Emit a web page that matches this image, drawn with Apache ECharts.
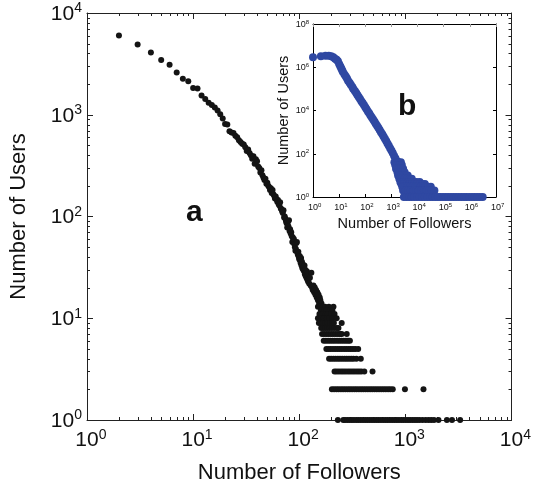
<!DOCTYPE html>
<html>
<head>
<meta charset="utf-8">
<script src="https://cdn.jsdelivr.net/npm/echarts@6/dist/echarts.min.js"></script>
<style>
  html, body { margin: 0; padding: 0; background: #fff; }
  #chart { width: 534px; height: 489px; }
</style>
</head>
<body>
<div id="chart"></div>
<script>
// ---- Panel a: followers vs number of users (sample) ----
// steep part of the distribution: [followers, users]
const curveA = [
  [2, 6000], [3, 4900], [4, 4100], [5, 3450], [6, 3100], [7, 2600], [8, 2260], [9, 2140],
  [10, 1830], [11, 1810], [12, 1550], [13, 1430], [14, 1310], [15, 1250], [16, 1180], [17, 1100],
  [18, 1010], [19, 920], [20, 810], [21, 800], [22, 690], [23, 670], [24, 660], [25, 620],
  [26, 600], [27, 560], [28, 540], [29, 520], [30, 510], [31, 480], [32, 440], [33, 455],
  [34, 420], [35, 400], [36, 370], [37, 390], [38, 330], [39, 365], [40, 350], [41, 310],
  [42, 300], [43, 270], [44, 285], [45, 255], [46, 240], [47, 228], [48, 235], [49, 210],
  [50, 215], [51, 200], [52, 195], [53, 182], [54, 190], [55, 170], [56, 182], [57, 165],
  [58, 160], [59, 150], [60, 157], [61, 148], [62, 140], [63, 145], [64, 132], [65, 128],
  [66, 138], [67, 120], [68, 118], [69, 112], [70, 108], [71, 115], [72, 98], [73, 100],
  [74, 95], [75, 90], [76, 86], [77, 78], [78, 88], [79, 80], [80, 92], [81, 72],
  [82, 75], [83, 68], [84, 70], [85, 64], [86, 56], [87, 62], [88, 58], [89, 60],
  [90, 53], [91, 50], [92, 46], [93, 48], [94, 55], [95, 56], [96, 44], [97, 42],
  [98, 45], [99, 40], [100, 38], [101, 41], [102, 37], [103, 35], [104, 39], [105, 33],
  [106, 36], [107, 31], [108, 34], [109, 30], [110, 32], [111, 29], [112, 33], [113, 27],
  [114, 30], [115, 26], [116, 28], [117, 25], [118, 29], [119, 24], [120, 26], [121, 23],
  [122, 24], [124, 22], [126, 25], [128, 21], [130, 28], [132, 20], [134, 19], [136, 21],
  [138, 18], [140, 20], [142, 17], [144, 19], [146, 16], [148, 18], [150, 15], [152, 17],
  [154, 14], [156, 16], [158, 15], [160, 13], [162, 14], [164, 12]
];

// tail: user counts that appear as horizontal rows, with the follower counts in each row
const rowCountsA = [13, 12, 11, 10, 9, 8, 7, 6, 5, 4, 3, 2, 1];
const rowFollowersA = [
  [150, 158, 166, 175, 190, 210],
  [160, 172, 180, 196, 205],
  [155, 168, 178, 186, 200, 215],
  [150, 162, 170, 182, 192, 205, 225],
  [153, 160, 168, 176, 185, 195, 205, 212, 251],
  [161, 168, 176, 184, 193, 203, 214, 226, 234],
  [164, 172, 181, 190, 200, 210, 221, 232, 243, 251, 280],
  [170, 178, 187, 196, 206, 216, 227, 238, 250, 262, 275, 288, 300],
  [180, 189, 198, 208, 218, 229, 240, 252, 265, 278, 292, 306, 321, 337, 359],
  [191, 200, 210, 220, 231, 242, 254, 267, 280, 294, 309, 324, 345, 380],
  [215, 225, 236, 248, 260, 273, 287, 301, 316, 332, 349, 366, 384, 410, 490],
  [203, 213, 224, 235, 247, 259, 272, 286, 300, 315, 331, 347, 365, 383, 402, 422, 443,
   465, 488, 512, 538, 565, 593, 623, 654, 687, 721, 760, 990, 1480],
  [231, 260, 270, 284, 298, 313, 328, 345, 362, 380, 399, 419, 440, 462, 485, 509, 535,
   561, 589, 619, 650, 682, 716, 752, 790, 830, 870, 915, 960, 1010, 1060, 1110, 1170,
   1230, 1290, 1360, 1450, 1550, 1650, 1750, 1860, 2050, 2460, 2750, 3280]
];

// ---- Panel b: full follower distribution ----
const curveB = [
  [1, 2.9e6], [2, 3.2e6], [3, 3.4e6], [4, 3.4e6], [5, 3.2e6], [6, 2.9e6], [7, 2.5e6],
  [8, 2.2e6], [9, 1.9e6], [10, 1.4e6], [11, 1.12e6], [12, 8.9e5], [13, 7.2e5], [14, 6.0e5],
  [16, 4.6e5], [18, 3.7e5], [20, 3.0e5], [22, 2.4e5], [25, 1.9e5], [28, 1.55e5], [32, 1.23e5],
  [35, 1.0e5], [40, 7.9e4], [45, 6.5e4], [50, 5.2e4], [56, 4.2e4], [63, 3.4e4], [71, 2.7e4],
  [79, 2.2e4], [89, 1.8e4], [100, 1.4e4], [112, 1.15e4], [126, 9.1e3], [141, 7.4e3],
  [158, 5.9e3], [178, 4.8e3], [200, 3.8e3], [224, 3.1e3], [251, 2.45e3], [282, 1.95e3],
  [316, 1.6e3], [355, 1.26e3], [398, 1.0e3], [447, 800], [501, 630], [562, 490], [631, 390],
  [708, 300], [794, 235], [891, 180], [1000, 140], [1122, 107], [1259, 81], [1413, 62],
  [1585, 47], [1778, 35], [1995, 26], [2239, 19]
];
const rowCountsB = [40, 30, 20, 14, 10, 7, 5, 4, 3, 2, 1];
const rowFollowersB = [
  [1300, 1600, 1900, 2300],
  [1400, 1700, 2100, 2500],
  [1500, 1900, 2300, 2800],
  [1700, 2100, 2600, 3200],
  [1800, 2300, 2900, 3600, 4200],
  [2000, 2500, 3200, 4000, 5000, 6000],
  [2200, 2800, 3500, 4400, 5500, 7000, 9000, 12000],
  [2400, 3000, 3800, 4800, 6000, 7600, 9500, 12000, 15000, 19000],
  [2600, 3300, 4100, 5200, 6500, 8200, 10000, 13000, 16000, 20000, 25000, 32000],
  [2800, 3500, 4400, 5500, 7000, 8800, 11000, 14000, 17500, 22000, 28000, 35000, 44000],
  [3000, 3800, 4800, 6000, 7500, 9500, 12000, 15000, 19000, 24000, 30000, 38000, 48000,
   60000, 75000, 95000, 120000, 150000, 190000, 240000, 300000, 380000, 480000, 600000,
   750000, 950000, 1200000, 1500000, 1900000, 2400000, 3100000]
];

const FONT = '"Liberation Sans", Arial, Helvetica, sans-serif';
const AXIS_COLOR = '#222';

function rowsToPoints(counts, followers) {
  const pts = [];
  counts.forEach((n, i) => followers[i].forEach(k => pts.push([k, n])));
  return pts;
}

// "10^e" label; the leading transparent exponent keeps the base centred on the tick
function powLabelCentered(v) {
  const e = Math.round(Math.log10(v));
  return '{p|' + e + '}{b|10}{s|' + e + '}';
}
function powLabel(v) {
  const e = Math.round(Math.log10(v));
  return '{b|10}{s|' + e + '}';
}
function powRich(base, sup, raise, color) {
  return {
    b: { fontFamily: FONT, fontSize: base, color: color, verticalAlign: 'bottom' },
    s: { fontFamily: FONT, fontSize: sup, color: color, verticalAlign: 'bottom', padding: [0, 0, raise, 0] },
    p: { fontFamily: FONT, fontSize: sup, color: 'rgba(0,0,0,0)', verticalAlign: 'bottom', padding: [0, 0, raise, 0] }
  };
}

// minor ticks at 2..9 of each decade
function minorValues(maxExp) {
  const out = [];
  for (let d = 0; d < maxExp; d++) {
    for (let m = 2; m <= 9; m++) out.push(m * Math.pow(10, d));
  }
  return out;
}

function minorTickSeries(xi, yi, dir, values, len, color) {
  return {
    type: 'custom', xAxisIndex: xi, yAxisIndex: yi, silent: true, clip: false, z: 1,
    data: values.map(v => [v]),
    renderItem: function (params, api) {
      const cs = params.coordSys;
      const v = api.value(0);
      const st = { stroke: color, lineWidth: 1 };
      if (dir === 'x') {
        const x = Math.round(api.coord([v, 1])[0]) + 0.5;
        const b = cs.y + cs.height, t = cs.y;
        return { type: 'group', children: [
          { type: 'line', shape: { x1: x, y1: b, x2: x, y2: b - len }, style: st },
          { type: 'line', shape: { x1: x, y1: t, x2: x, y2: t + len }, style: st }
        ]};
      }
      const y = Math.round(api.coord([1, v])[1]) + 0.5;
      const l = cs.x, r = cs.x + cs.width;
      return { type: 'group', children: [
        { type: 'line', shape: { x1: l, y1: y, x2: l + len, y2: y }, style: st },
        { type: 'line', shape: { x1: r, y1: y, x2: r - len, y2: y }, style: st }
      ]};
    }
  };
}

function logAxis(opts) {
  return Object.assign({
    type: 'log', logBase: 10,
    splitLine: { show: false },
    axisLine: { show: true, onZero: false, lineStyle: { color: AXIS_COLOR, width: 1 } },
    axisTick: { show: true, inside: true, length: 6, lineStyle: { color: AXIS_COLOR } },
    axisLabel: { show: false },
    minorTick: { show: false }
  }, opts);
}

const chart = echarts.init(document.getElementById('chart'), null, { renderer: 'canvas' });

chart.setOption({
  animation: false,
  backgroundColor: '#fff',
  grid: [
    { left: 82, top: 13, right: 22, bottom: 69, show: false },
    { left: 313, top: 24, right: 38, bottom: 292, show: true, backgroundColor: '#fff', borderWidth: 0, z: 5 }
  ],
  xAxis: [
    logAxis({
      gridIndex: 0, min: 1, max: 1e4, position: 'bottom', splitNumber: 4,
      axisLabel: { show: true, interval: 0, margin: 8, formatter: powLabelCentered, rich: powRich(21, 14, 9, '#111') },
      name: 'Number of Followers', nameLocation: 'middle', nameGap: 42,
      nameTextStyle: { fontFamily: FONT, fontSize: 22, color: '#111' }
    }),
    logAxis({ gridIndex: 0, min: 1, max: 1e4, position: 'top', splitNumber: 4 }),
    logAxis({
      gridIndex: 1, min: 1, max: 1e7, position: 'bottom', splitNumber: 7, z: 6,
      axisLine: { show: true, onZero: false, lineStyle: { color: '#000', width: 1 } },
      axisTick: { show: true, inside: true, length: 3, lineStyle: { color: '#000' } },
      axisLabel: { show: true, interval: 0, margin: 5, formatter: powLabelCentered, rich: powRich(9, 6, 4, '#111') },
      name: 'Number of Followers', nameLocation: 'middle', nameGap: 19,
      nameTextStyle: { fontFamily: FONT, fontSize: 14.5, color: '#111' }
    }),
    logAxis({
      gridIndex: 1, min: 1, max: 1e7, position: 'top', splitNumber: 7, z: 6,
      axisLine: { show: true, onZero: false, lineStyle: { color: '#000', width: 1 } },
      axisTick: { show: true, inside: true, length: 3, lineStyle: { color: '#999' } }
    })
  ],
  yAxis: [
    logAxis({
      gridIndex: 0, min: 1, max: 1e4, position: 'left', splitNumber: 4,
      axisLabel: { show: true, interval: 0, margin: 5, formatter: powLabel, rich: powRich(21, 14, 9, '#111') },
      name: 'Number of Users', nameLocation: 'middle', nameGap: 57, nameRotate: 90,
      nameTextStyle: { fontFamily: FONT, fontSize: 22, color: '#111' }
    }),
    logAxis({ gridIndex: 0, min: 1, max: 1e4, position: 'right', splitNumber: 4 }),
    logAxis({
      gridIndex: 1, min: 1, max: 1e8, logBase: 100, position: 'left', splitNumber: 4, z: 6,
      axisLine: { show: true, onZero: false, lineStyle: { color: '#000', width: 1 } },
      axisTick: { show: true, inside: true, length: 3, lineStyle: { color: '#000' } },
      axisLabel: { show: true, interval: 0, margin: 4, formatter: powLabel, rich: powRich(9, 6, 4, '#111') },
      name: 'Number of Users', nameLocation: 'middle', nameGap: 20, nameRotate: 90,
      nameTextStyle: { fontFamily: FONT, fontSize: 14.5, color: '#111' }
    }),
    logAxis({
      gridIndex: 1, min: 1, max: 1e8, logBase: 100, position: 'right', splitNumber: 4, z: 6,
      axisLine: { show: true, onZero: false, lineStyle: { color: '#000', width: 1 } },
      axisTick: { show: true, inside: true, length: 3, lineStyle: { color: '#000' } }
    })
  ],
  graphic: [
    { type: 'text', left: 186, top: 198, z: 10,
      style: { text: 'a', font: 'bold 30px ' + FONT, fill: '#111' } },
    { type: 'text', left: 398, top: 92, z: 10,
      style: { text: 'b', font: 'bold 30px ' + FONT, fill: '#111' } }
  ],
  series: [
    minorTickSeries(0, 0, 'x', minorValues(4), 3, AXIS_COLOR),
    minorTickSeries(0, 0, 'y', minorValues(4), 3, AXIS_COLOR),
    {
      type: 'scatter', xAxisIndex: 0, yAxisIndex: 0, clip: false,
      symbol: 'circle', symbolSize: 6,
      itemStyle: { color: '#141414', opacity: 1 },
      data: curveA.concat(rowsToPoints(rowCountsA, rowFollowersA))
    },
    {
      type: 'scatter', xAxisIndex: 2, yAxisIndex: 2, clip: false, z: 7,
      symbol: 'circle', symbolSize: 8,
      itemStyle: { color: '#2f48a2', opacity: 1 },
      data: curveB.concat(rowsToPoints(rowCountsB, rowFollowersB))
    }
  ]
});
</script>
</body>
</html>
